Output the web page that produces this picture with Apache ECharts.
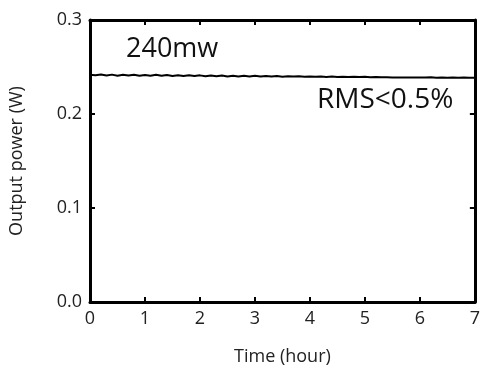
<!DOCTYPE html>
<html><head><meta charset="utf-8">
<script src="https://cdn.jsdelivr.net/npm/echarts@6/dist/echarts.min.js"></script>
<style>html,body{margin:0;padding:0;background:#fff}#c{width:483px;height:371px}</style>
</head><body><div id="c"></div>
<script>
const timeHours = [0,0.1,0.2,0.3,0.4,0.5,0.6,0.7,0.8,0.9,1.0,1.1,1.2,1.3,1.4,1.5,1.6,1.7,1.8,1.9,2.0,2.1,2.2,2.3,2.4,2.5,2.6,2.7,2.8,2.9,3.0,3.1,3.2,3.3,3.4,3.5,3.6,3.7,3.8,3.9,4.0,4.1,4.2,4.3,4.4,4.5,4.6,4.7,4.8,4.9,5.0,5.1,5.2,5.3,5.4,5.5,5.6,5.7,5.8,5.9,6.0,6.1,6.2,6.3,6.4,6.5,6.6,6.7,6.8,6.9,7.0];
const powerW = [0.2418,0.2412,0.2420,0.2410,0.2419,0.2408,0.2417,0.2409,0.2418,0.2407,0.2416,0.2408,0.2417,0.2406,0.2414,0.2405,0.2413,0.2404,0.2412,0.2404,0.2411,0.2402,0.2410,0.2401,0.2409,0.2400,0.2408,0.2399,0.2407,0.2400,0.2406,0.2398,0.2405,0.2399,0.2403,0.2397,0.2402,0.2398,0.2401,0.2396,0.2400,0.2395,0.2399,0.2394,0.2398,0.2394,0.2397,0.2393,0.2396,0.2393,0.2395,0.2392,0.2394,0.2390,0.2390,0.2389,0.2389,0.2389,0.2388,0.2388,0.2388,0.2387,0.2390,0.2386,0.2389,0.2386,0.2388,0.2386,0.2388,0.2385,0.2386];
const xTicks = {min:0,max:7,interval:1};
const yTicks = {min:0,max:0.3,interval:0.1};
const labels = {x:'Time (hour)', y:'Output power (W)', note1:'240mw', note2:'RMS<0.5%'};

const font = '"Open Sans", "DejaVu Sans", sans-serif';
const axisLine = {show:true, onZero:false, lineStyle:{color:'#000', width:3}};
const tick = {show:true, inside:true, length:5, lineStyle:{color:'#000', width:2}};
const chart = echarts.init(document.getElementById('c'));
chart.setOption({
  animation:false,
  backgroundColor:'#fff',
  grid:{left:90, right:5, top:20, bottom:66},
  xAxis:[{
    type:'value', min:xTicks.min, max:xTicks.max, interval:xTicks.interval,
    name:labels.x, nameLocation:'middle', nameGap:46,
    nameTextStyle:{fontFamily:font, fontSize:18, color:'#222'},
    axisLine:axisLine, axisTick:tick, splitLine:{show:false},
    axisLabel:{fontFamily:font, fontSize:18, color:'#222', margin:8}
  },{
    type:'value', position:'top', min:xTicks.min, max:xTicks.max, interval:xTicks.interval,
    axisLine:axisLine, axisTick:tick, splitLine:{show:false}, axisLabel:{show:false}
  }],
  yAxis:[{
    type:'value', min:yTicks.min, max:yTicks.max, interval:yTicks.interval,
    name:labels.y, nameLocation:'middle', nameGap:64, nameRotate:90,
    nameTextStyle:{fontFamily:font, fontSize:18, color:'#222'},
    axisLine:axisLine, axisTick:tick, splitLine:{show:false},
    axisLabel:{fontFamily:font, fontSize:18, color:'#222', margin:8, formatter:v=>v.toFixed(1)}
  },{
    type:'value', position:'right', min:yTicks.min, max:yTicks.max, interval:yTicks.interval,
    axisLine:axisLine, axisTick:tick, splitLine:{show:false}, axisLabel:{show:false}
  }],
  series:[{
    type:'line', data:timeHours.map((t,i)=>[t,powerW[i]]),
    showSymbol:false, lineStyle:{color:'#000', width:2}
  }],
  graphic:[
    {type:'text', left:126, top:36, style:{text:labels.note1, fontFamily:font, fontSize:27, fill:'#111'}},
    {type:'text', left:317, top:86, style:{text:labels.note2, fontFamily:font, fontSize:28, fill:'#111'}}
  ]
});
</script></body></html>
